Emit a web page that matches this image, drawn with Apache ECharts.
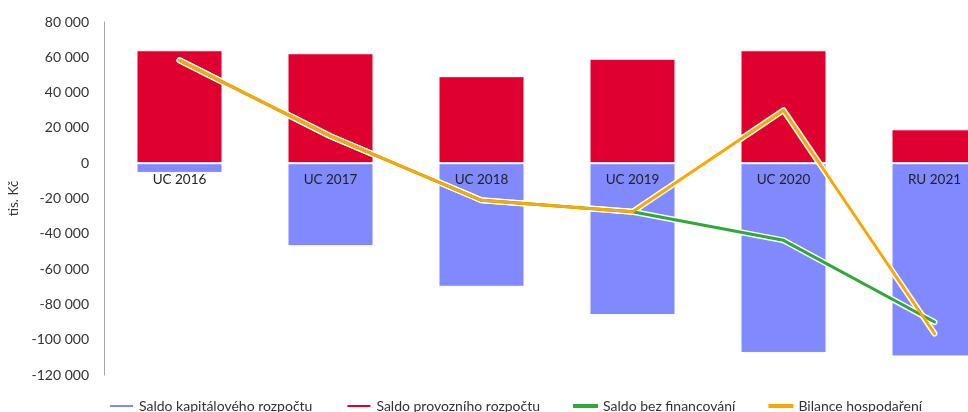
<!DOCTYPE html>
<html>
<head>
<meta charset="utf-8">
<script src="https://cdn.jsdelivr.net/npm/echarts@6/dist/echarts.min.js"></script>
<style>
  html, body { margin: 0; padding: 0; background: #fff; }
  #chart { width: 968px; height: 412px; }
</style>
</head>
<body>
<div id="chart"></div>
<script>
// Rozpočtové období
const categories = ['UC 2016', 'UC 2017', 'UC 2018', 'UC 2019', 'UC 2020', 'RU 2021'];
// Saldo kapitálového rozpočtu (tis. Kč)
const saldoKapitalove = [-5500, -47000, -70000, -86000, -107500, -109500];
// Saldo provozního rozpočtu (tis. Kč)
const saldoProvozni = [64000, 62300, 49300, 59200, 64000, 19200];
// Saldo bez financování (tis. Kč)
const saldoBezFinancovani = [58300, 15300, -21000, -27500, -43700, -90000];
// Bilance hospodaření (tis. Kč)
const bilanceHospodareni = [58300, 15300, -21000, -27500, 30000, -96500];
// Popisky osy Y
const yTicks = { min: -120000, max: 80000, step: 20000 };

const fontFamily = 'Lato, "Open Sans", sans-serif';
const fmt = v => {
  const s = Math.abs(v).toString().replace(/\B(?=(\d{3})+(?!\d))/g, ' ');
  return (v < 0 ? '-' : '') + s;
};

// plot area; it runs past the right edge, so the last column is cut off
const grid = { left: 104, width: 906, top: 22, height: 353 };
// lift the category axis from the bottom of the plot up to the zero line
const zeroOffset = -grid.height * (0 - yTicks.min) / (yTicks.max - yTicks.min);

const chart = echarts.init(document.getElementById('chart'), null, { renderer: 'canvas' });

const outline = (data) => ({
  type: 'line',
  data: data,
  symbol: 'none',
  silent: true,
  lineStyle: { color: '#ffffff', width: 6, cap: 'round', join: 'round' },
  z: 3
});

chart.setOption({
  animation: false,
  textStyle: { fontFamily: fontFamily },
  grid: Object.assign({ outerBoundsMode: 'none', containLabel: false }, grid),
  legend: {
    left: 108,
    top: 399,
    padding: 0,
    itemWidth: 25,
    itemHeight: 4,
    itemGap: 33,
    icon: 'rect',
    textStyle: { fontSize: 14, color: '#333', fontFamily: fontFamily },
    data: ['Saldo kapitálového rozpočtu', 'Saldo provozního rozpočtu', 'Saldo bez financování', 'Bilance hospodaření']
  },
  xAxis: {
    type: 'category',
    data: categories,
    z: 10,
    position: 'bottom',
    offset: zeroOffset,
    axisLine: { show: false, onZero: false },
    axisTick: { show: false },
    axisLabel: { margin: 9, fontSize: 13.5, color: '#222', fontFamily: fontFamily }
  },
  yAxis: {
    type: 'value',
    min: yTicks.min,
    max: yTicks.max,
    interval: yTicks.step,
    name: 'tis. Kč',
    nameLocation: 'middle',
    nameGap: 78,
    nameTextStyle: { fontSize: 13.5, color: '#333', fontFamily: fontFamily },
    axisLine: { show: true, lineStyle: { color: '#a6a6a6', width: 1 } },
    axisTick: { show: false },
    splitLine: { show: false },
    axisLabel: { margin: 15, fontSize: 14, color: '#333', fontFamily: fontFamily, formatter: fmt }
  },
  series: [
    {
      name: 'Saldo kapitálového rozpočtu',
      type: 'bar',
      stack: 'saldo',
      barWidth: 86,
      data: saldoKapitalove,
      itemStyle: { color: '#8089fd', borderColor: '#ffffff', borderWidth: 1 }
    },
    {
      name: 'Saldo provozního rozpočtu',
      type: 'bar',
      stack: 'saldo',
      barWidth: 86,
      data: saldoProvozni,
      itemStyle: { color: '#df0030', borderColor: '#ffffff', borderWidth: 1 }
    },
    outline(saldoBezFinancovani),
    {
      name: 'Saldo bez financování',
      type: 'line',
      data: saldoBezFinancovani,
      symbol: 'none',
      itemStyle: { color: '#2ea836' },
      lineStyle: { color: '#2ea836', width: 3, cap: 'round' },
      z: 4
    },
    outline(bilanceHospodareni),
    {
      name: 'Bilance hospodaření',
      type: 'line',
      data: bilanceHospodareni,
      symbol: 'none',
      itemStyle: { color: '#fca600' },
      lineStyle: { color: '#fca600', width: 3, cap: 'round' },
      z: 4
    }
  ]
});
</script>
</body>
</html>
